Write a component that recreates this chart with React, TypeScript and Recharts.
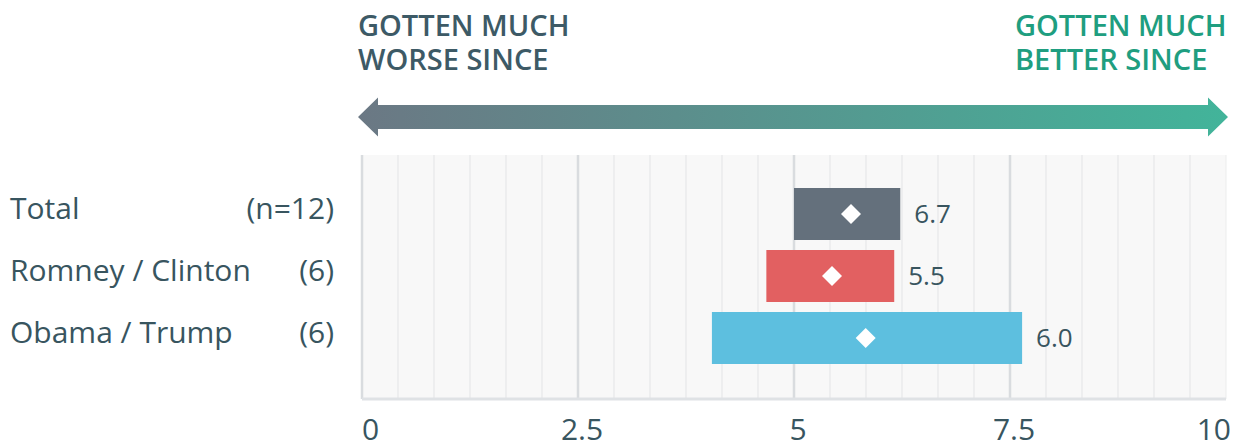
import React from "react";
import {
  ComposedChart,
  Bar,
  Line,
  XAxis,
  YAxis,
  CartesianGrid,
  LabelList,
  Cell,
} from "recharts";

const categories = ["Total", "Romney / Clinton", "Obama / Trump"];
const sampleLabels = ["(n=12)", "(6)", "(6)"];
const lowValues = [5.0, 4.68, 4.05];
const highValues = [6.23, 6.16, 7.64];
const meanValues = [5.66, 5.44, 5.83];
const scoreValues = [6.7, 5.5, 6.0];
const barColors = ["#64707c", "#e26061", "#5dbfdf"];
const labelTicks = [0, 2.5, 5, 7.5, 10];

// gridlines: 6 minor divisions per 2.5 step
const gridTicks = Array.from({ length: 25 }, (_, i) => (i * 10) / 24);

const data = categories.map((name, i) => ({
  name,
  n: sampleLabels[i],
  range: [lowValues[i], highValues[i]],
  mean: meanValues[i],
  score: scoreValues[i],
}));

const TEXT = "#38555f";
const FONT = "'Open Sans', sans-serif";

const YTick = (props: any) => {
  const { y, payload } = props;
  const idx = categories.indexOf(payload.value);
  return (
    <g>
      <text x={10} y={y + 5} fontSize={30} fill={TEXT} fontFamily={FONT}>
        {payload.value}
      </text>
      <text x={334} y={y + 5} fontSize={30} fill={TEXT} fontFamily={FONT} textAnchor="end">
        {sampleLabels[idx]}
      </text>
    </g>
  );
};

const XTick = (props: any) => {
  const { x, payload } = props;
  const v = payload.value;
  if (!labelTicks.some((t) => Math.abs(t - v) < 1e-6)) return null;
  let anchor: "start" | "middle" | "end" = "middle";
  let dx = 4;
  if (v === 0) {
    anchor = "start";
    dx = 0;
  } else if (Math.abs(v - 10) < 1e-6) {
    anchor = "end";
    dx = 5;
  }
  return (
    <text x={x + dx} y={440} fontSize={30} fill={TEXT} fontFamily={FONT} textAnchor={anchor}>
      {Math.round(v * 10) / 10}
    </text>
  );
};

const GridLine = (props: any) => {
  const { x1, y1, x2, y2, index } = props;
  const major = index % 6 === 0;
  if (index === 24) {
    return <line x1={x1} y1={y1} x2={x2} y2={y2} stroke="#eceded" strokeWidth={1} />;
  }
  return (
    <line
      x1={x1}
      y1={y1}
      x2={x2}
      y2={y2}
      stroke={major ? "#d9dcdf" : "#e7e8ea"}
      strokeWidth={major ? 2.5 : 1.2}
    />
  );
};

const Diamond = (props: any) => {
  const { cx, cy } = props;
  if (cx == null || cy == null) return null;
  const r = 10;
  return (
    <path
      d={`M${cx},${cy - r} L${cx + r},${cy} L${cx},${cy + r} L${cx - r},${cy} Z`}
      fill="#ffffff"
    />
  );
};

const ScoreLabel = (props: any) => {
  const { x, y, width, height, value } = props;
  return (
    <text
      x={x + width + 14}
      y={y + height / 2 + 9}
      fontSize={26}
      fill={TEXT}
      fontFamily={FONT}
    >
      {Number(value).toFixed(1)}
    </text>
  );
};

export default function App() {
  return (
    <div style={{ position: "absolute", left: 0, top: 0, width: 1243, height: 445, background: "#fff" }}>
      <ComposedChart
        width={1243}
        height={445}
        data={data}
        layout="vertical"
        margin={{ top: 155, right: 17, bottom: 0, left: 0 }}
      >
        <CartesianGrid horizontal={false} fill="#f8f8f8" vertical={<GridLine />} />
        <XAxis
          type="number"
          domain={[0, 10]}
          ticks={gridTicks}
          interval={0}
          height={46}
          axisLine={{ stroke: "#dfe2e5", strokeWidth: 3 }}
          tickLine={false}
          tick={<XTick />}
        />
        <YAxis
          type="category"
          dataKey="name"
          width={362}
          axisLine={false}
          tickLine={false}
          tick={<YTick />}
          padding={{ top: 28, bottom: 30 }}
        />
        <Bar dataKey="range" barSize={52} isAnimationActive={false}>
          {data.map((d, i) => (
            <Cell key={`c-${i}`} fill={barColors[i]} />
          ))}
          <LabelList dataKey="score" content={<ScoreLabel />} />
        </Bar>
        <Line
          dataKey="mean"
          stroke="none"
          dot={<Diamond />}
          activeDot={false}
          isAnimationActive={false}
        />
      </ComposedChart>
      <svg
        width={1243}
        height={150}
        style={{ position: "absolute", left: 0, top: 0 }}
      >
        <defs>
          <linearGradient id="arrowGrad" x1="0" x2="1" y1="0" y2="0">
            <stop offset="0%" stopColor="#6b7884" />
            <stop offset="100%" stopColor="#42b49a" />
          </linearGradient>
        </defs>
        <path
          d="M358,117 L378,97.5 L378,105 L1208,105 L1208,97.5 L1228,117 L1208,136.5 L1208,129 L378,129 L378,136.5 Z"
          fill="url(#arrowGrad)"
        />
        <text x={358} y={36} fontSize={29} fontWeight={600} fill="#3d5a66" fontFamily={FONT}>
          GOTTEN MUCH
        </text>
        <text x={358} y={70} fontSize={29} fontWeight={600} fill="#3d5a66" fontFamily={FONT}>
          WORSE SINCE
        </text>
        <text x={1015} y={36} fontSize={29} fontWeight={600} fill="#1f9e80" fontFamily={FONT}>
          GOTTEN MUCH
        </text>
        <text x={1015} y={70} fontSize={29} fontWeight={600} fill="#1f9e80" fontFamily={FONT}>
          BETTER SINCE
        </text>
      </svg>
    </div>
  );
}
